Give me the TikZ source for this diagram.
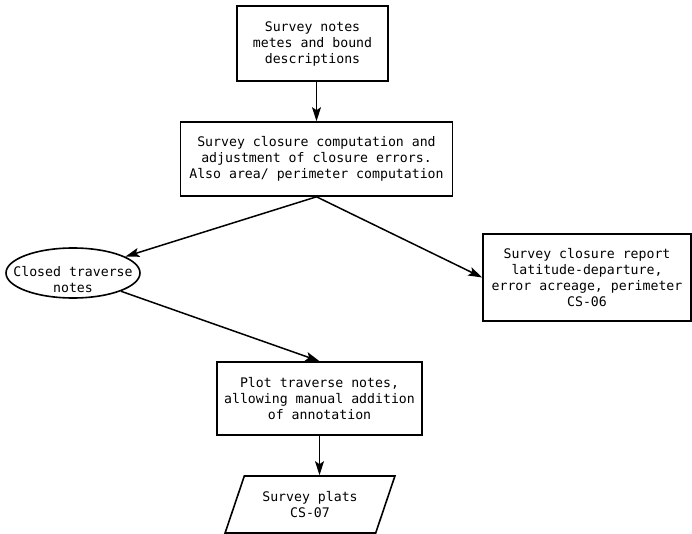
\documentclass[tikz,border=0pt]{standalone}
\usepackage{fontspec}
\setmonofont{DejaVu Sans Mono}
\usetikzlibrary{arrows.meta,shapes.geometric}

\begin{document}
\begin{tikzpicture}[x=1pt,y=-1pt,
  every node/.style={font=\ttfamily\fontsize{13.2}{16}\selectfont, align=center, inner sep=0pt},
  procbox/.style={draw, line width=1.6pt, rectangle},
  flow/.style={-{Stealth[length=14pt,width=9pt,inset=3pt]}, line width=1.5pt}]
  \useasboundingbox (0,0) rectangle (692,534);
  % Boksene
  \node[procbox, minimum width=151pt, minimum height=75pt] (notes) at (312.5,43.5)
    {Survey notes\\metes and bound\\descriptions};
  \node[procbox, minimum width=272pt, minimum height=74pt] (closure) at (316.5,159)
    {Survey closure computation and\\adjustment of closure errors.\\Also area/ perimeter computation};
  \node[draw, ellipse, line width=1.6pt, minimum width=134pt, minimum height=50pt,
    label={[yshift=-7pt]center:{Closed traverse\\notes}}] (traverse) at (73,273) {};
  \node[procbox, minimum width=208pt, minimum height=87pt] (report) at (587,277.5)
    {Survey closure report\\latitude-departure,\\error acreage, perimeter\\CS-06};
  \node[procbox, minimum width=205pt, minimum height=73pt] (plot) at (319.5,398.5)
    {Plot traverse notes,\\allowing manual addition\\of annotation};
  \node[draw, trapezium, trapezium stretches=true, trapezium left angle=62, trapezium right angle=118,
    line width=1.6pt, minimum width=170pt, minimum height=57pt] (plats) at (310,504.5)
    {Survey plats\\CS-07};
  % Piler
  \draw[flow] (closure.north |- notes.south) -- (closure.north);
  \draw[flow] (closure.south) -- (traverse);
  \draw[flow] (closure.south) -- (report.west);
  \draw[flow] (traverse.south east) -- (plot.north);
  \draw[flow] (plot.south) -- (plot.south |- plats.north);
\end{tikzpicture}
\end{document}
